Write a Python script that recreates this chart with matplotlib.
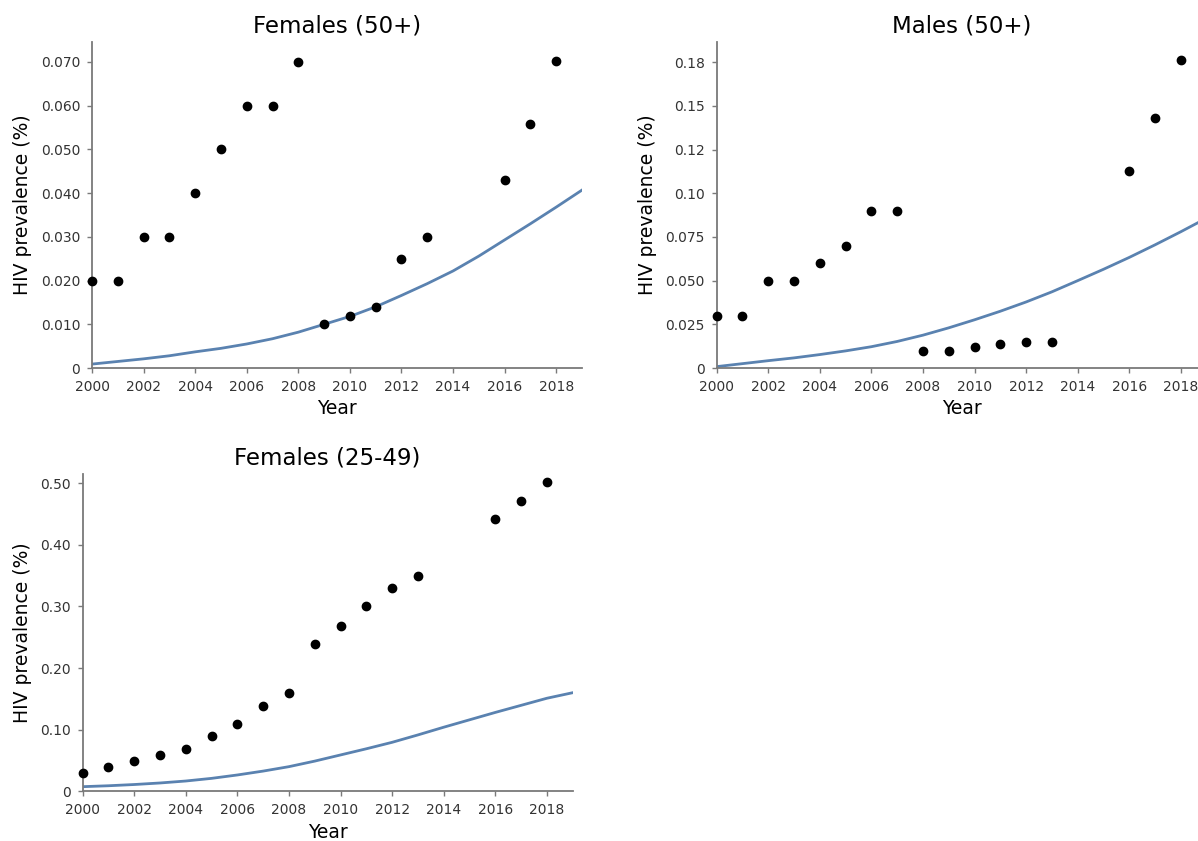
import matplotlib
matplotlib.use("Agg")
import matplotlib.pyplot as plt

years_obs = [2000, 2001, 2002, 2003, 2004, 2005, 2006, 2007, 2008,
             2009, 2010, 2011, 2012, 2013, 2016, 2017, 2018]
years_model = list(range(2000, 2020))

# observed prevalence points
fem50_obs = [0.020, 0.020, 0.030, 0.030, 0.040, 0.050, 0.060, 0.060, 0.070,
             0.010, 0.012, 0.014, 0.025, 0.030, 0.043, 0.0558, 0.0702]
male50_obs = [0.030, 0.030, 0.050, 0.050, 0.060, 0.070, 0.090, 0.090, 0.010,
              0.010, 0.012, 0.014, 0.015, 0.015, 0.1125, 0.143, 0.176]
fem2549_obs = [0.029, 0.039, 0.049, 0.059, 0.069, 0.090, 0.109, 0.139, 0.159,
               0.239, 0.269, 0.300, 0.330, 0.350, 0.442, 0.471, 0.502]

# model fits
fem50_fit = [0.0009, 0.0015, 0.0021, 0.0028, 0.0037, 0.0045, 0.0055, 0.0067,
             0.0082, 0.0100, 0.0118, 0.0140, 0.0166, 0.0193, 0.0222, 0.0256,
             0.0293, 0.0330, 0.0368, 0.0407]
male50_fit = [0.0008, 0.0025, 0.0042, 0.0058, 0.0077, 0.0098, 0.0122, 0.0152,
              0.0188, 0.0230, 0.0276, 0.0325, 0.0378, 0.0436, 0.0500, 0.0565,
              0.0633, 0.0705, 0.0780, 0.0858]
fem2549_fit = [0.0075, 0.0090, 0.0110, 0.0135, 0.0167, 0.0210, 0.0265, 0.0328,
               0.0400, 0.0490, 0.0590, 0.0690, 0.0795, 0.0915, 0.1040, 0.1160,
               0.1280, 0.1395, 0.1510, 0.1600]

fem50_ticks = [0, 0.01, 0.02, 0.03, 0.04, 0.05, 0.06, 0.07]
fem50_labels = ["0", "0.010", "0.020", "0.030", "0.040", "0.050", "0.060", "0.070"]
male50_ticks = [0, 0.025, 0.05, 0.075, 0.1, 0.125, 0.15, 0.175]
male50_labels = ["0", "0.025", "0.050", "0.075", "0.10", "0.12", "0.15", "0.18"]
fem2549_ticks = [0, 0.1, 0.2, 0.3, 0.4, 0.5]
fem2549_labels = ["0", "0.10", "0.20", "0.30", "0.40", "0.50"]

line_color = "#5a82b0"
spine_color = "#7a7a7a"

fig = plt.figure(figsize=(11.98, 8.41), dpi=100)

panels = [
    ([0.0768, 0.5624, 0.409, 0.3873], "Females (50+)", fem50_obs, fem50_fit,
     fem50_ticks, fem50_labels, 0.0745),
    ([0.5982, 0.5624, 0.409, 0.3873], "Males (50+)", male50_obs, male50_fit,
     male50_ticks, male50_labels, 0.1864),
    ([0.0690, 0.0591, 0.409, 0.3773], "Females (25-49)", fem2549_obs, fem2549_fit,
     fem2549_ticks, fem2549_labels, 0.515),
]

for rect, title, obs, fit, yt, ylab, ytop in panels:
    ax = fig.add_axes(rect)
    ax.plot(years_model, fit, color=line_color, lw=2.0, zorder=2)
    ax.plot(years_obs, obs, "o", color="black", ms=6, zorder=3, clip_on=False)
    ax.set_xlim(2000, 2019)
    ax.set_ylim(0, ytop)
    ax.set_xticks(range(2000, 2019, 2))
    ax.set_yticks(yt)
    ax.set_yticklabels(ylab)
    ax.set_title(title, fontsize=16.5, pad=7)
    ax.set_xlabel("Year", fontsize=13.5, labelpad=4)
    ax.set_ylabel("HIV prevalence (%)", fontsize=13.5, labelpad=6)
    for side in ["top", "right"]:
        ax.spines[side].set_visible(False)
    for side in ["left", "bottom"]:
        ax.spines[side].set_color(spine_color)
        ax.spines[side].set_linewidth(1.3)
    ax.tick_params(axis="both", labelsize=10, colors="#333333", length=3.5,
                   width=1.0, pad=5)
    ax.tick_params(axis="both", color=spine_color)

fig.savefig("out.png", dpi=100)
